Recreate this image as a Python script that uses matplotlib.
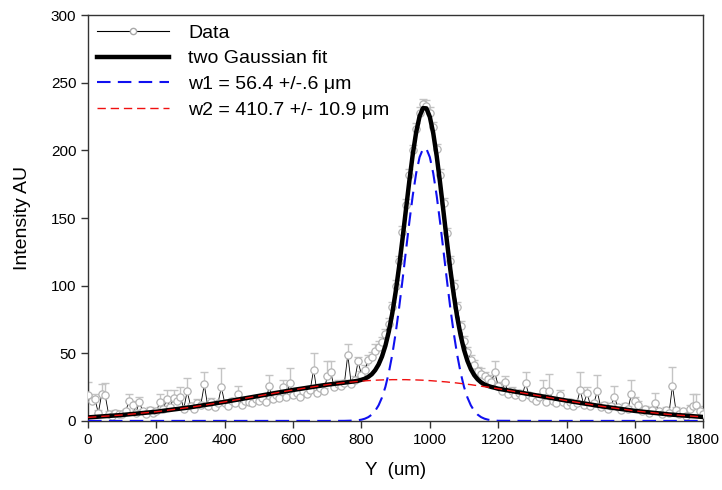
import matplotlib

matplotlib.use("Agg")
import matplotlib.pyplot as plt
from matplotlib.lines import Line2D

plt.rcParams["font.family"] = ["Liberation Sans", "DejaVu Sans"]

# measured profile, one point every 10 um
data_x = list(range(0, 1810, 10))
data_y = [
    19, 15, 16, 6, 20, 19, 5, 4, 6, 5,
    5, 7, 15, 12, 6, 14, 7, 5, 8, 6,
    7, 14, 9, 16, 10, 17, 15, 18, 9, 22,
    11, 9, 13, 12, 27, 11, 14, 10, 13, 25,
    13, 11, 15, 13, 20, 12, 15, 14, 13, 16,
    15, 17, 14, 26, 16, 19, 17, 25, 18, 28,
    19, 21, 18, 22, 20, 23, 38, 21, 24, 22,
    33, 36, 25, 27, 26, 28, 49, 27, 30, 44,
    34, 38, 45, 47, 52, 55, 58, 64, 72, 84,
    100, 118, 140, 160, 182, 200, 216, 228, 234, 233,
    228, 217, 201, 182, 161, 139, 118, 100, 84, 70,
    59, 51, 45, 41, 37, 35, 33, 31, 29, 36,
    26, 22, 29, 20, 22, 19, 21, 18, 28, 19,
    17, 15, 18, 22, 14, 22, 15, 13, 19, 14,
    12, 14, 11, 13, 23, 12, 21, 11, 13, 22,
    10, 12, 9, 11, 18, 10, 8, 11, 9, 20,
    15, 12, 7, 9, 6, 8, 13, 7, 5, 8,
    6, 26, 8, 5, 7, 4, 9, 11, 12, 7, 5,
]
data_err = [
    10, 3, 4, 2, 7, 9, 2, 2, 2, 2,
    2, 2, 5, 3, 2, 4, 2, 2, 2, 2,
    2, 6, 2, 7, 2, 6, 3, 7, 2, 10,
    2, 2, 3, 2, 9, 2, 3, 2, 2, 14,
    2, 2, 2, 2, 6, 2, 3, 2, 2, 2,
    2, 2, 2, 8, 2, 3, 2, 5, 2, 11,
    2, 3, 2, 2, 2, 3, 12, 2, 3, 2,
    11, 8, 2, 3, 2, 2, 8, 3, 3, 3,
    3, 3, 4, 4, 5, 4, 4, 4, 4, 4,
    4, 4, 4, 4, 4, 4, 4, 4, 4, 4,
    4, 4, 4, 4, 4, 4, 4, 4, 4, 4,
    4, 4, 4, 4, 3, 4, 3, 3, 3, 8,
    3, 2, 4, 2, 3, 2, 2, 2, 8, 2,
    2, 2, 2, 8, 2, 13, 2, 2, 4, 2,
    2, 2, 2, 2, 13, 2, 4, 2, 2, 12,
    2, 2, 2, 2, 8, 2, 2, 2, 2, 10,
    3, 3, 2, 2, 2, 2, 8, 2, 2, 2,
    2, 14, 2, 2, 2, 2, 3, 9, 8, 4, 2,
]

# fitted curves, sampled densely around the peak
fit_x = [0, 100, 200, 300, 400, 500, 600, 700, 750] + list(range(780, 1210, 10)) + [1300, 1400, 1500, 1600, 1700, 1800]
fit_total = [
    2.6, 4.4, 6.8, 10.1, 14.1, 18.5, 22.9, 26.8, 28.3,
    29.3, 29.7, 30.4, 31.2, 32.6, 34.5, 37.5, 41.7, 47.6, 55.6, 66.1, 79.4,
    95.4, 113.9, 134.5, 156.1, 177.3, 197.0, 213.4, 225.2, 231.3, 231.1,
    224.8, 212.7, 196.0, 176.1, 154.6, 132.8, 111.9, 93.2, 76.9, 63.4,
    52.6, 44.4, 38.3, 33.8, 30.7, 28.5, 26.9, 25.9, 25.1, 24.5, 23.8,
    19.4, 15.0, 10.9, 7.4, 4.8, 2.9,
]
fit_narrow = [
    0, 0, 0, 0, 0, 0, 0, 0, 0.05,
    0.27, 0.51, 0.93, 1.64, 2.8, 4.63, 7.41, 11.5, 17.3, 25.2, 35.7, 48.9,
    64.9, 83.4, 104.0, 125.6, 146.9, 166.6, 183.1, 195.0, 201.2, 201.2,
    195.0, 183.1, 166.6, 146.9, 125.6, 104.0, 83.4, 64.9, 48.9, 35.7,
    25.2, 17.3, 11.5, 7.41, 4.63, 2.8, 1.64, 0.93, 0.51, 0.27, 0.1,
    0, 0, 0, 0, 0, 0,
]
fit_wide = [
    2.6, 4.4, 6.8, 10.1, 14.1, 18.5, 22.9, 26.8, 28.3,
    29.0, 29.2, 29.4, 29.6, 29.8, 29.9, 30.1, 30.2, 30.3, 30.4, 30.4, 30.5,
    30.5, 30.5, 30.5, 30.5, 30.4, 30.4, 30.3, 30.2, 30.1, 29.9,
    29.8, 29.6, 29.4, 29.2, 29.0, 28.8, 28.5, 28.3, 28.0, 27.7,
    27.4, 27.1, 26.8, 26.4, 26.1, 25.7, 25.3, 25.0, 24.6, 24.2, 23.8,
    19.4, 15.0, 10.9, 7.4, 4.8, 2.9,
]

labels = ["Data", "two Gaussian fit", "w1 = 56.4 +/-.6 \u03bcm", "w2 = 410.7 +/- 10.9 \u03bcm"]

fig = plt.figure(figsize=(7.22, 4.90), dpi=100)
ax = fig.add_axes([0.122, 0.141, 0.852, 0.828])

err_lo = [0] * len(data_err)
ax.errorbar(data_x, data_y, yerr=[err_lo, data_err], fmt="none", ecolor="#c4c4c4",
            elinewidth=1.0, capsize=3, capthick=1.0, zorder=1)
ax.plot(data_x, data_y, color="black", lw=0.6, zorder=2)
ax.plot(data_x, data_y, ls="none", marker="o", ms=5.2, mfc="white", mec="#b4b4b4",
        mew=0.9, zorder=3)

ax.plot(fit_x, fit_total, color="black", lw=3.2, zorder=4)
ax.plot(fit_x, fit_narrow, color="#1010f0", lw=1.5, dashes=(6.5, 3.5), zorder=5)
ax.plot(fit_x, fit_wide, color="#f01010", lw=1.0, dashes=(6, 3.5), zorder=6)

ax.set_xlim(0, 1800)
ax.set_ylim(0, 300)
ax.set_xticks(range(0, 1801, 200))
ax.set_yticks(range(0, 301, 50))
ax.tick_params(direction="out", length=5, width=1, labelsize=11, colors="#333333",
               labelcolor="black")
for sp in ax.spines.values():
    sp.set_color("#333333")
    sp.set_linewidth(1.0)

ax.set_xlabel("Y  (um)", fontsize=13.5, labelpad=11)
ax.set_ylabel("Intensity AU", fontsize=14, labelpad=14)

handles = [
    Line2D([], [], color="black", lw=0.8, marker="o", ms=4.5, mfc="white", mec="#a8a8a8"),
    Line2D([], [], color="black", lw=3.2),
    Line2D([], [], color="#1010f0", lw=1.5, dashes=(6.5, 3.5)),
    Line2D([], [], color="#f01010", lw=1.0, dashes=(6, 3.5)),
]
ax.legend(handles, labels, loc="upper left", bbox_to_anchor=(0.0, 1.0), frameon=False,
          fontsize=14, handlelength=3.7, handletextpad=1.0, labelspacing=0.42,
          borderaxespad=0.0, borderpad=0.45, numpoints=1)

fig.savefig("out.png", dpi=100)
